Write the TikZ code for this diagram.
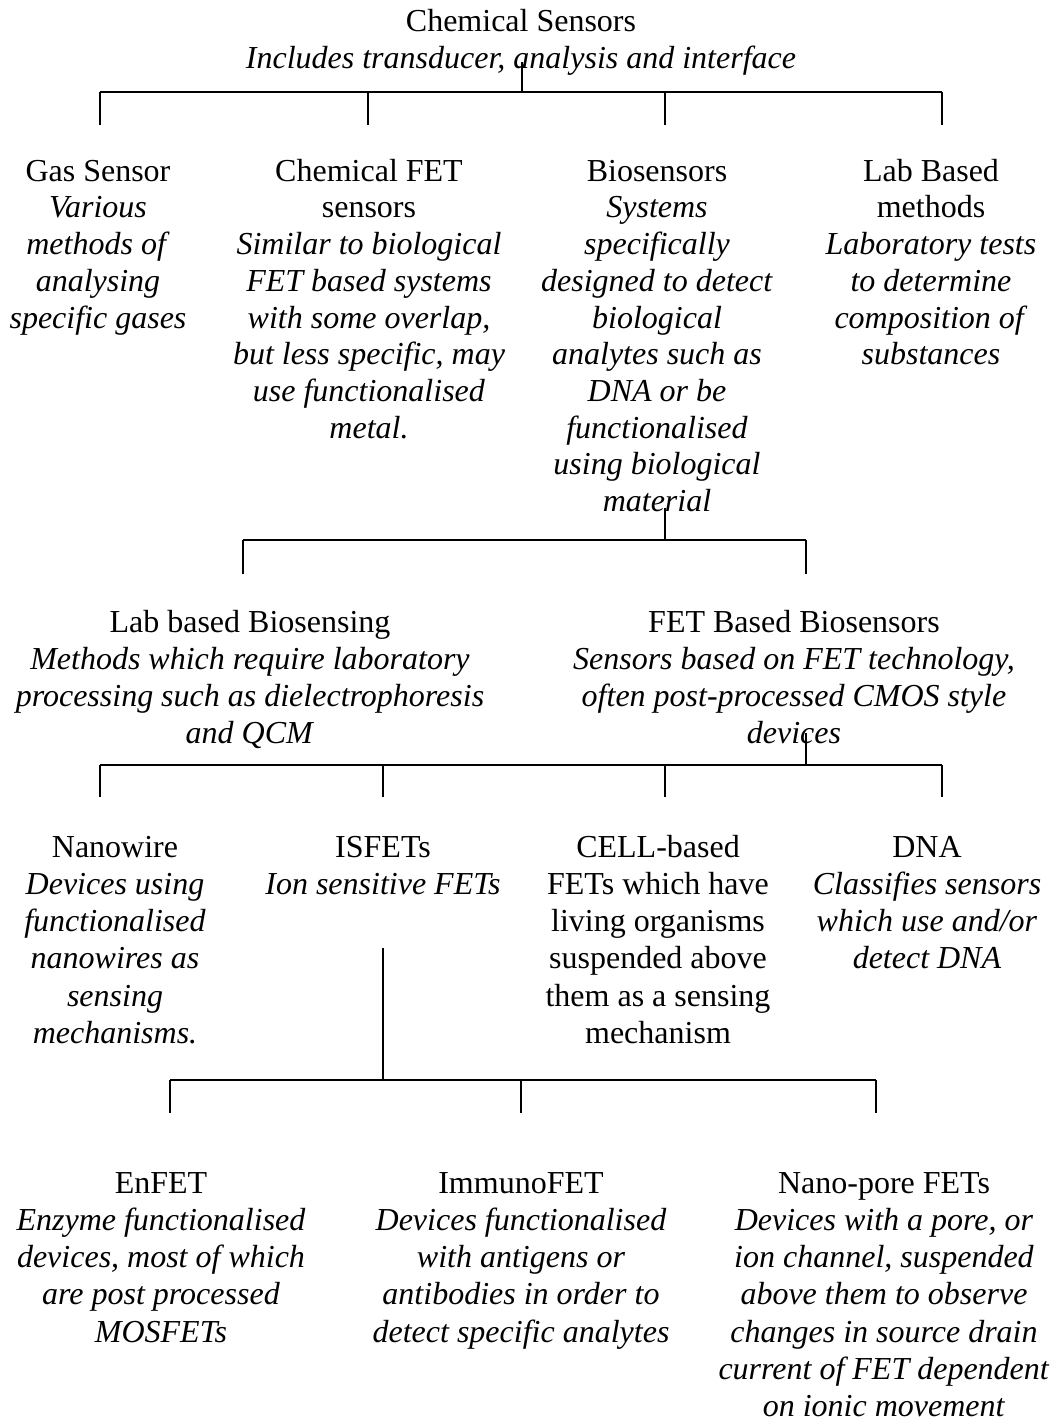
\documentclass[tikz,border=0pt]{standalone}
\usepackage{fontspec}
\setmainfont{Liberation Serif}

\tikzset{
  entry/.style={align=center, anchor=north, inner sep=0pt, yshift=26.04pt,
    font=\fontsize{32}{37.2}\selectfont},
  tight/.style={entry, yshift=-0.35pt, font=\fontsize{32}{36.7}\selectfont},
  bar/.style={line width=2pt},
  stem/.style={line width=1.2pt}
}

\begin{document}
\begin{tikzpicture}[x=1pt,y=-1pt]
    \useasboundingbox (0,0) rectangle (1062,1419);

    \node[entry] (root) at (521,31) {\strut Chemical Sensors\\ \textit{Includes transducer, analysis and interface}};

    % first level
    \node[tight] (gas) at (98,181) {\strut Gas Sensor\\ \textit{Various}\\ \textit{methods of}\\ \textit{analysing}\\ \textit{specific gases}};
    \node[tight] (chemfet) at (369,181) {\strut Chemical FET\\ sensors\\ \textit{Similar to biological}\\ \textit{FET based systems}\\ \textit{with some overlap,}\\ \textit{but less specific, may}\\ \textit{use functionalised}\\ \textit{metal.}};
    \node[tight] (bio) at (657,181) {\strut Biosensors\\ \textit{Systems}\\ \textit{specifically}\\ \textit{designed to detect}\\ \textit{biological}\\ \textit{analytes such as}\\ \textit{DNA or be}\\ \textit{functionalised}\\ \textit{using biological}\\ \textit{material}};
    \node[tight] (lab) at (931,181) {\strut Lab Based\\ methods\\ \textit{Laboratory tests}\\ \textit{to determine}\\ \textit{composition of}\\ \textit{substances}};

    % biosensor level
    \node[entry] (labbio) at (250,632) {\strut Lab based Biosensing\\ \textit{Methods which require laboratory}\\ \textit{processing such as dielectrophoresis}\\ \textit{and QCM}};
    \node[entry] (fetbio) at (794,632) {\strut FET Based Biosensors\\ \textit{Sensors based on FET technology,}\\ \textit{often post-processed CMOS style}\\ \textit{devices}};

    % FET level
    \node[entry] (nano) at (115,857) {\strut Nanowire\\ \textit{Devices using}\\ \textit{functionalised}\\ \textit{nanowires as}\\ \textit{sensing}\\ \textit{mechanisms.}};
    \node[entry] (isfet) at (383,857) {\strut ISFETs\\ \textit{Ion sensitive FETs}};
    \node[entry] (cell) at (658,857) {\strut CELL-based\\ FETs which have\\ living organisms\\ suspended above\\ them as a sensing\\ mechanism};
    \node[entry] (dna) at (927,857) {\strut DNA\\ \textit{Classifies sensors}\\ \textit{which use and/or}\\ \textit{detect DNA}};

    % ISFET level
    \node[entry] (enfet) at (161,1193) {\strut EnFET\\ \textit{Enzyme functionalised}\\ \textit{devices, most of which}\\ \textit{are post processed}\\ \textit{MOSFETs}};
    \node[entry] (immuno) at (521,1193) {\strut ImmunoFET\\ \textit{Devices functionalised}\\ \textit{with antigens or}\\ \textit{antibodies in order to}\\ \textit{detect specific analytes}};
    \node[entry] (nanopore) at (884,1193) {\strut Nano-pore FETs\\ \textit{Devices with a pore, or}\\ \textit{ion channel, suspended}\\ \textit{above them to observe}\\ \textit{changes in source drain}\\ \textit{current of FET dependent}\\ \textit{on ionic movement}};

    % tree lines
    \coordinate (s0) at (522,62);
    \coordinate (j0) at (522,92);
    \foreach \x [count=\i] in {100,368,665,942} {
        \coordinate (a\i) at (\x,92);
        \coordinate (b\i) at (\x,125);
    }
    \draw[stem] (s0) -- (j0);
    \draw[bar] (a1) -- (a4);
    \foreach \i in {1,...,4} \draw[stem] (a\i) -- (b\i);

    \coordinate (s1) at (665,508);
    \coordinate (c1) at (243,540);
    \coordinate (c2) at (806,540);
    \coordinate (d1) at (243,574);
    \coordinate (d2) at (806,574);
    \draw[stem] (s1) -- (s1 |- c1);
    \draw[bar] (c1) -- (c2);
    \foreach \i in {1,2} \draw[stem] (c\i) -- (d\i);

    \coordinate (s2) at (806,733);
    \foreach \x [count=\i] in {100,383,665,942} {
        \coordinate (e\i) at (\x,765);
        \coordinate (f\i) at (\x,797);
    }
    \draw[stem] (s2) -- (s2 |- e1);
    \draw[bar] (e1) -- (e4);
    \foreach \i in {1,...,4} \draw[stem] (e\i) -- (f\i);

    \coordinate (s3) at (383,948);
    \foreach \x [count=\i] in {170,521,876} {
        \coordinate (g\i) at (\x,1080);
        \coordinate (h\i) at (\x,1113);
    }
    \draw[stem] (s3) -- (s3 |- g1);
    \draw[bar] (g1) -- (g3);
    \foreach \i in {1,2,3} \draw[stem] (g\i) -- (h\i);
\end{tikzpicture}
\end{document}
